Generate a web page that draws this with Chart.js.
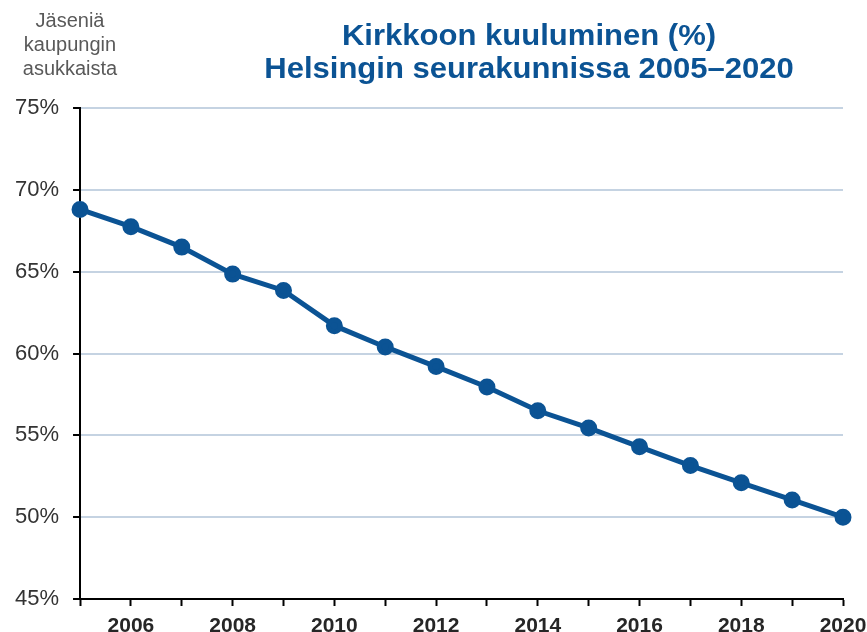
<!DOCTYPE html>
<html>
<head>
<meta charset="utf-8">
<script src="https://cdn.jsdelivr.net/npm/chart.js@4"></script>
<style>
  body { margin: 0; background: #fff; }
  #wrap { width: 867px; height: 632px; }
</style>
</head>
<body>
<div id="wrap"><canvas id="chart"></canvas></div>
<script>
// Kirkkoon kuuluminen Helsingissä
const years = ['2005', '2006', '2007', '2008', '2009', '2010', '2011', '2012',
  '2013', '2014', '2015', '2016', '2017', '2018', '2019', '2020'];
const membership = [68.8, 67.75, 66.5, 64.85, 63.85, 61.7, 60.4, 59.2,
  57.95, 56.5, 55.45, 54.3, 53.15, 52.1, 51.05, 50.0];
const yTicks = [45, 50, 55, 60, 65, 70, 75];
const titleLines = ['Kirkkoon kuuluminen (%)', 'Helsingin seurakunnissa 2005–2020'];
const axisNote = ['Jäseniä', 'kaupungin', 'asukkaista'];

const blue = '#0b5394';
const font = "'Liberation Sans', Arial, sans-serif";

// draws the title and the small axis note above the plot
const textPlugin = {
  id: 'texts',
  afterDraw: function(chart) {
    const ctx = chart.ctx;
    ctx.save();
    ctx.textAlign = 'center';
    ctx.textBaseline = 'alphabetic';
    ctx.fillStyle = blue;
    ctx.font = 'bold 29px ' + font;
    // title glyphs are a bit wider in the original
    ctx.save();
    ctx.translate(529, 0);
    ctx.scale(1.07, 1);
    ctx.fillText(titleLines[0], 0, 45);
    ctx.fillText(titleLines[1], 0, 78);
    ctx.restore();

    ctx.fillStyle = '#595959';
    ctx.font = '20px ' + font;
    axisNote.forEach(function(t, i) {
      ctx.fillText(t, 70, 27 + i * 24);
    });
    ctx.restore();
  }
};

new Chart(document.getElementById('chart'), {
  type: 'line',
  data: {
    labels: years,
    datasets: [{
      data: membership,
      borderColor: blue,
      backgroundColor: blue,
      borderWidth: 5,
      pointRadius: 6,
      pointHoverRadius: 6,
      tension: 0
    }]
  },
  options: {
    responsive: true,
    maintainAspectRatio: false,
    animation: false,
    layout: { padding: { top: 108, left: 1, right: 24, bottom: -15 } },
    plugins: {
      legend: { display: false },
      title: { display: false },
      tooltip: { enabled: false }
    },
    scales: {
      x: {
        offset: false,
        afterFit: function(axis) {
          // let the last label hang into the right margin
          axis.paddingRight = 0;
          axis.paddingLeft = 0;
        },
        border: { display: true, color: '#000', width: 2 },
        grid: { drawOnChartArea: false, drawTicks: true, tickLength: 7, tickColor: '#000', tickWidth: 2 },
        ticks: {
          autoSkip: false,
          maxRotation: 0,
          padding: 10,
          color: '#262626',
          font: { family: font, size: 21, weight: 'bold', lineHeight: 1 },
          callback: function(v, i) {
            const y = years[i];
            return Number(y) % 2 === 0 ? y : '';
          }
        }
      },
      y: {
        min: yTicks[0],
        max: yTicks[yTicks.length - 1],
        afterBuildTicks: function(axis) {
          axis.ticks = yTicks.map(function(v) { return { value: v }; });
        },
        border: { display: true, color: '#000', width: 2 },
        grid: { color: '#c5d3e2', lineWidth: 2, tickLength: 7, tickColor: '#000', tickWidth: 2 },
        ticks: {
          padding: 14,
          color: '#333333',
          font: { family: font, size: 22 },
          callback: function(v) { return v + '%'; }
        }
      }
    }
  },
  plugins: [textPlugin]
});
</script>
</body>
</html>
